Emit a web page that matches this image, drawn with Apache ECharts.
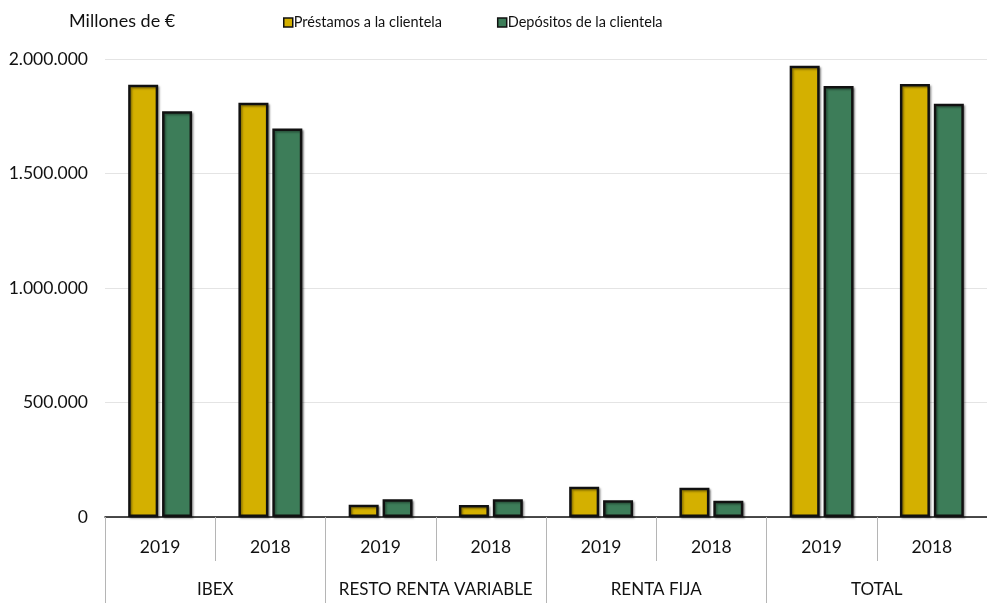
<!DOCTYPE html>
<html>
<head>
<meta charset="utf-8">
<script src="https://cdn.jsdelivr.net/npm/echarts@6/dist/echarts.min.js"></script>
<style>
  html, body { margin: 0; padding: 0; background: #fff; }
  #chart { width: 987px; height: 603px; }
</style>
</head>
<body>
<div id="chart"></div>
<script>
// datos (millones de €)
var years = ['2019', '2018', '2019', '2018', '2019', '2018', '2019', '2018']
var groups = ['IBEX', 'RESTO RENTA VARIABLE', 'RENTA FIJA', 'TOTAL']
var prestamos = [1888000, 1809000, 54000, 52000, 132000, 128000, 1971000, 1891000]
var depositos = [1772000, 1696000, 77000, 77000, 73000, 71000, 1882000, 1805000]
var yTicks = [0, 500000, 1000000, 1500000, 2000000]

var FONT = 'Lato'
var chart = echarts.init(document.getElementById('chart'))

function miles(v) {
  return String(v).replace(/\B(?=(\d{3})+(?!\d))/g, '.')
}

var barStyle = function (color) {
  return {
    color: color,
    borderColor: '#111',
    borderWidth: 2.5,
    shadowColor: 'rgba(0,0,0,0.35)',
    shadowBlur: 2,
    shadowOffsetX: 1.5,
    shadowOffsetY: 1.5
  }
}

var option = {
  animation: false,
  textStyle: { fontFamily: FONT },
  title: {
    text: 'Millones de €',
    left: 64,
    top: 7,
    textStyle: { fontFamily: FONT, fontSize: 18, fontWeight: 'normal', color: '#111' }
  },
  legend: {
    left: 278,
    top: 10,
    itemWidth: 9,
    itemHeight: 9,
    itemGap: 55,
    icon: 'rect',
    textStyle: { fontFamily: FONT, fontSize: 14.5, color: '#111', padding: [0, 0, 0, -4] },
    itemStyle: { borderColor: '#111', borderWidth: 1.5 },
    data: ['Préstamos a la clientela', 'Depósitos de la clientela']
  },
  grid: { left: 105, right: -8, top: 59, bottom: 86, containLabel: false },
  xAxis: [
    {
      type: 'category',
      data: years,
      position: 'bottom',
      axisLine: { lineStyle: { color: '#111', width: 1.5 } },
      axisTick: { show: true, length: 44, lineStyle: { color: '#b5b5b5' } },
      axisLabel: { margin: 21, fontSize: 17.5, color: '#111', fontFamily: FONT }
    },
    {
      type: 'category',
      data: groups,
      position: 'bottom',
      axisLine: { show: false },
      axisTick: { show: true, length: 90, lineStyle: { color: '#b5b5b5' } },
      axisLabel: { margin: 64, fontSize: 17, color: '#111', fontFamily: FONT, interval: 0 }
    }
  ],
  yAxis: {
    type: 'value',
    min: yTicks[0],
    max: yTicks[yTicks.length - 1],
    interval: yTicks[1] - yTicks[0],
    axisLine: { show: false },
    axisTick: { show: false },
    axisLabel: { margin: 17, fontSize: 17.5, color: '#111', fontFamily: FONT, formatter: miles },
    splitLine: { lineStyle: { color: '#e4e4e4', width: 1 } }
  },
  series: [
    {
      name: 'Préstamos a la clientela',
      type: 'bar',
      xAxisIndex: 0,
      data: prestamos,
      barWidth: 30,
      barGap: '13%',
      itemStyle: barStyle('#d4b000')
    },
    {
      name: 'Depósitos de la clientela',
      type: 'bar',
      xAxisIndex: 0,
      data: depositos,
      barWidth: 30,
      barGap: '13%',
      itemStyle: barStyle('#3d7d59')
    }
  ]
}

chart.setOption(option)
</script>
</body>
</html>
